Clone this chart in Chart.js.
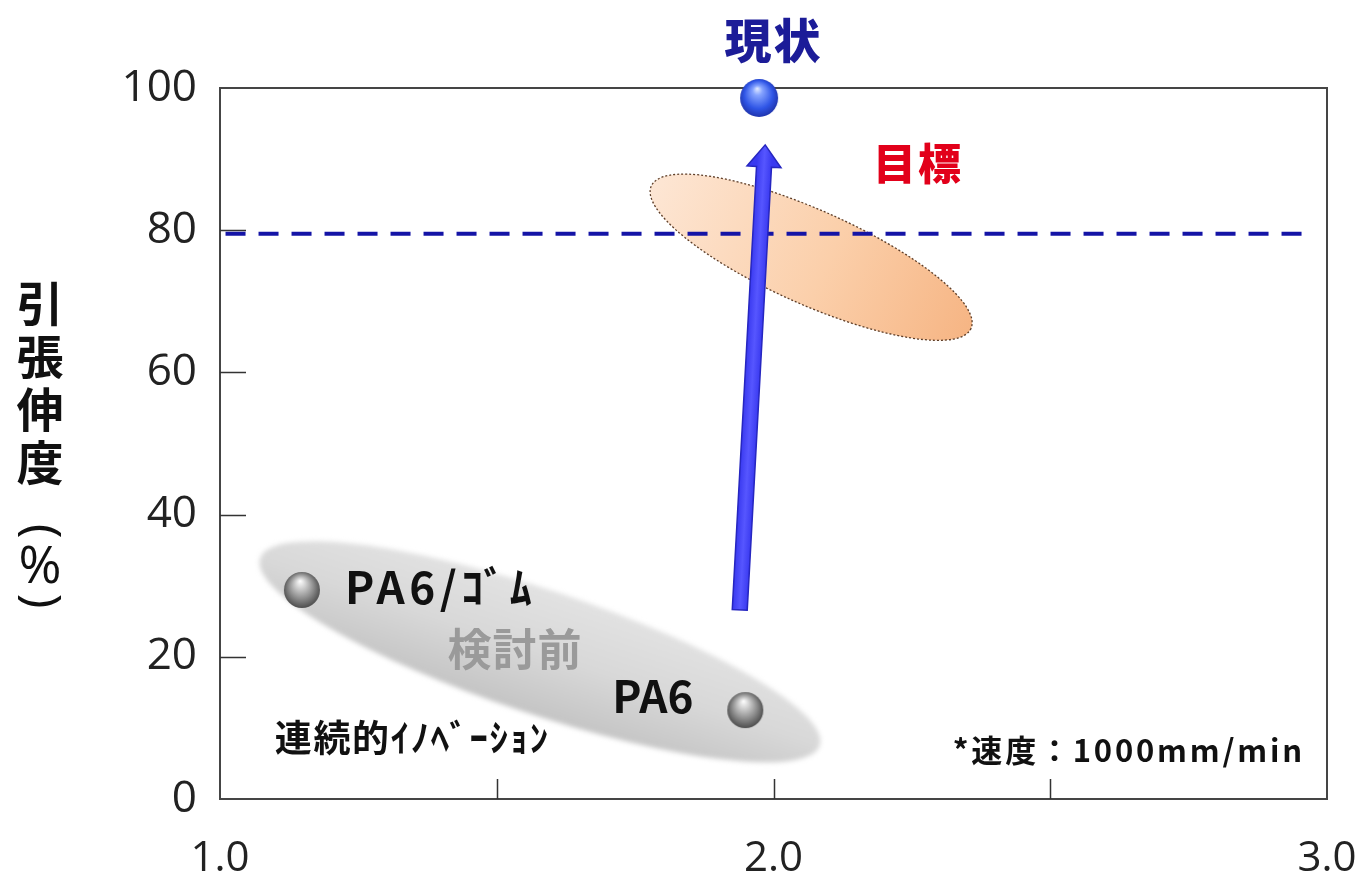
<!DOCTYPE html>
<html>
<head>
<meta charset="utf-8">
<title>引張伸度</title>
<script src="https://cdn.jsdelivr.net/npm/chart.js@4.4.1/dist/chart.umd.min.js"></script>
<style>
  html, body { margin: 0; padding: 0; background: #ffffff; }
  #wrap { width: 1364px; height: 880px; }
</style>
</head>
<body>
<div id="wrap"><canvas id="chart" width="1364" height="880"></canvas></div>
<script>
// ---- data ----
const xTickValues = [1.0, 1.5, 2.0, 2.5, 3.0];
const yTickValues = [0, 20, 40, 60, 80, 100];
const sampleNames = ['PA6/ｺﾞﾑ', 'PA6'];
const sampleX = [1.148, 1.949];
const sampleY = [29.4, 12.5];
const currentX = [1.974];
const currentY = [98.6];
const targetLevel = 79.5;
const targetSpanX = [1.01, 2.975];
const arrowFrom = [1.939, 26.6];
const arrowTo = [1.985, 92.0];

// ---- region shading (centres in data units) ----
const regions = [
  { kind: 'before', x: 1.578, y: 20.7, a: 295, b: 62, angle: 18.5 },
  { kind: 'target', x: 2.068, y: 76.2, a: 175, b: 47, angle: 24 }
];

// ---- text annotations (anchored in data units) ----
const notes = [
  { text: '現状', x: 2.0, y: 106.8, align: 'center', font: '900 47px "Noto Sans CJK JP"', color: '#1c1c98', spacing: 2 },
  { text: '目標', x: 2.261, y: 89.3, align: 'center', font: '900 43px "Noto Sans CJK JP"', color: '#e2001a', spacing: 2 },
  { text: 'PA6/ｺﾞﾑ', x: 1.226, y: 29.8, align: 'left', font: 'bold 44px "Noto Sans CJK JP"', color: '#111111', spacing: 4.5 },
  { text: '検討前', x: 1.533, y: 21.0, align: 'center', font: 'bold 44px "Noto Sans CJK JP"', color: '#9a9a9a', spacing: 1 },
  { text: 'PA6', x: 1.782, y: 14.5, align: 'center', font: 'bold 44px "Noto Sans CJK JP"', color: '#111111', spacing: 0 },
  { text: '連続的ｲﾉﾍﾞｰｼｮﾝ', x: 1.099, y: 8.6, align: 'left', font: 'bold 37px "Noto Sans CJK JP"', color: '#111111', spacing: 1.6 },
  { text: '*速度：1000mm/min', x: 2.960, y: 6.9, align: 'right', font: 'bold 31px "Noto Sans CJK JP"', color: '#111111', spacing: 2.8 }
];

const yTitleChars = ['引', '張', '伸', '度'];

// ---- shaded sphere markers ----
function makeSphere(r, stops) {
  const c = document.createElement('canvas');
  c.width = c.height = 2 * r + 4;
  const g = c.getContext('2d');
  const m = r + 2;
  const grad = g.createRadialGradient(m - r * 0.1, m - r * 0.5, 0, m, m, r * 1.15);
  stops.forEach(s => grad.addColorStop(s[0], s[1]));
  g.fillStyle = grad;
  g.beginPath();
  g.arc(m, m, r, 0, Math.PI * 2);
  g.fill();
  return c;
}
const graySphere = makeSphere(18, [[0, '#ffffff'], [0.22, '#d6d6d6'], [0.6, '#8c8c8c'], [1, '#3c3c3c']]);
const blueSphere = makeSphere(19, [[0, '#e4ecff'], [0.22, '#86a4ff'], [0.65, '#2f55e6'], [1, '#1a2a9a']]);

// ---- plugin: shaded regions, frame, inner ticks ----
const backdrop = {
  id: 'backdrop',
  beforeDatasetsDraw(chart) {
    const { ctx, chartArea: ca, scales: { x, y } } = chart;
    regions.forEach(r => {
      const cx = x.getPixelForValue(r.x), cy = y.getPixelForValue(r.y);
      ctx.save();
      ctx.translate(cx, cy);
      ctx.rotate(r.angle * Math.PI / 180);
      if (r.kind === 'before') {
        ctx.filter = 'blur(2.5px)';
        const g = ctx.createLinearGradient(0, -r.b, 0, r.b);
        g.addColorStop(0, '#e2e2e2');
        g.addColorStop(0.5, '#d8d8d8');
        g.addColorStop(1, '#c4c4c4');
        ctx.fillStyle = g;
        ctx.beginPath();
        ctx.ellipse(0, 0, r.a, r.b, 0, 0, Math.PI * 2);
        ctx.fill();
      } else {
        const g = ctx.createLinearGradient(-r.a, 0, r.a, 0);
        g.addColorStop(0, '#fde6d4');
        g.addColorStop(0.55, '#fbcfaa');
        g.addColorStop(1, '#f6b584');
        ctx.fillStyle = g;
        ctx.beginPath();
        ctx.ellipse(0, 0, r.a, r.b, 0, 0, Math.PI * 2);
        ctx.fill();
        ctx.setLineDash([2, 2]);
        ctx.lineWidth = 1.3;
        ctx.strokeStyle = '#5e3e28';
        ctx.stroke();
      }
      ctx.restore();
    });

    // frame
    ctx.save();
    ctx.strokeStyle = '#454545';
    ctx.lineWidth = 2;
    ctx.strokeRect(ca.left, ca.top, ca.right - ca.left, ca.bottom - ca.top);
    // inward tick marks
    ctx.lineWidth = 1.5;
    ctx.strokeStyle = '#333333';
    ctx.beginPath();
    xTickValues.slice(1, -1).forEach(v => {
      const px = Math.round(x.getPixelForValue(v)) + 0.5;
      ctx.moveTo(px, ca.bottom);
      ctx.lineTo(px, ca.bottom - 20);
    });
    yTickValues.slice(1, -1).forEach(v => {
      const py = Math.round(y.getPixelForValue(v)) + 0.5;
      ctx.moveTo(ca.left, py);
      ctx.lineTo(ca.left + 26, py);
    });
    ctx.stroke();
    ctx.restore();
  },
  afterDatasetsDraw(chart) {
    const { ctx, scales: { x, y } } = chart;
    // improvement arrow
    const x0 = x.getPixelForValue(arrowFrom[0]), y0 = y.getPixelForValue(arrowFrom[1]);
    const x1 = x.getPixelForValue(arrowTo[0]), y1 = y.getPixelForValue(arrowTo[1]);
    const len = Math.hypot(x1 - x0, y1 - y0);
    const ux = (x1 - x0) / len, uy = (y1 - y0) / len;
    const nx = -uy, ny = ux;
    const hw = 7.5, hh = 17, hl = 22;
    const bx = x1 - ux * hl, by = y1 - uy * hl;
    ctx.save();
    const g = ctx.createLinearGradient(x0 + nx * hw, y0 + ny * hw, x0 - nx * hw, y0 - ny * hw);
    g.addColorStop(0, '#3a3af0');
    g.addColorStop(0.5, '#5656ff');
    g.addColorStop(1, '#3a3af0');
    ctx.fillStyle = g;
    ctx.strokeStyle = '#2626c0';
    ctx.lineWidth = 1.5;
    ctx.beginPath();
    ctx.moveTo(x0 + nx * hw, y0 + ny * hw);
    ctx.lineTo(bx + nx * hw, by + ny * hw);
    ctx.lineTo(bx + nx * hh, by + ny * hh);
    ctx.lineTo(x1, y1);
    ctx.lineTo(bx - nx * hh, by - ny * hh);
    ctx.lineTo(bx - nx * hw, by - ny * hw);
    ctx.lineTo(x0 - nx * hw, y0 - ny * hw);
    ctx.closePath();
    ctx.fill();
    ctx.stroke();
    ctx.restore();
  },
  afterDraw(chart) {
    const { ctx, scales: { x, y } } = chart;
    ctx.save();
    ctx.textBaseline = 'middle';
    notes.forEach(n => {
      ctx.font = n.font;
      ctx.fillStyle = n.color;
      ctx.textAlign = n.align;
      ctx.letterSpacing = n.spacing + 'px';
      ctx.fillText(n.text, x.getPixelForValue(n.x), y.getPixelForValue(n.y));
    });
    ctx.letterSpacing = '0px';

    // vertical axis title: 引張伸度（%）
    const tx = 40;
    ctx.fillStyle = '#111111';
    ctx.textAlign = 'center';
    ctx.font = 'bold 47px "Noto Sans CJK JP"';
    yTitleChars.forEach((ch, i) => ctx.fillText(ch, tx, 303 + i * 53));
    ctx.font = '50px "Open Sans"';
    [['(', 531], [')', 601]].forEach(([ch, py]) => {
      ctx.save();
      ctx.translate(tx, py);
      ctx.rotate(Math.PI / 2);
      ctx.fillText(ch, 0, 0);
      ctx.restore();
    });
    ctx.font = '52px "Open Sans"';
    ctx.fillText('%', tx, 568);
    ctx.restore();
  }
};

const chart = new Chart(document.getElementById('chart'), {
  type: 'scatter',
  data: {
    datasets: [
      {
        label: '目標ライン',
        data: targetSpanX.map(v => ({ x: v, y: targetLevel })),
        showLine: true,
        borderColor: '#1414a6',
        borderWidth: 4,
        borderDash: [20, 13],
        pointRadius: 0
      },
      {
        label: '検討前',
        data: sampleX.map((v, i) => ({ x: v, y: sampleY[i], name: sampleNames[i] })),
        pointStyle: graySphere,
        pointRadius: 18
      },
      {
        label: '現状',
        data: currentX.map((v, i) => ({ x: v, y: currentY[i] })),
        pointStyle: blueSphere,
        pointRadius: 19,
        clip: false
      }
    ]
  },
  options: {
    responsive: false,
    animation: false,
    devicePixelRatio: 1,
    layout: { padding: { top: 88, right: 37, left: 0, bottom: 0 } },
    plugins: {
      legend: { display: false },
      tooltip: { enabled: false },
      title: { display: false }
    },
    scales: {
      x: {
        type: 'linear',
        min: 1,
        max: 3,
        afterBuildTicks: s => { s.ticks = xTickValues.map(v => ({ value: v })); },
        afterFit: s => { s.height = 81; s.paddingLeft = 0; s.paddingRight = 0; },
        grid: { display: false, drawTicks: false },
        border: { display: false },
        ticks: {
          autoSkip: false,
          maxRotation: 0,
          padding: 35,
          color: '#222222',
          font: { family: 'Open Sans', size: 42 },
          callback: v => (Number.isInteger(v) ? v.toFixed(1) : '')
        }
      },
      y: {
        min: 0,
        max: 100,
        afterBuildTicks: s => { s.ticks = yTickValues.map(v => ({ value: v })); },
        afterFit: s => { s.width = 220; s.paddingTop = 0; s.paddingBottom = 0; },
        grid: { display: false, drawTicks: false },
        border: { display: false },
        ticks: {
          padding: 23,
          color: '#222222',
          font: { family: 'Open Sans', size: 44 }
        }
      }
    }
  },
  plugins: [backdrop]
});
</script>
</body>
</html>
